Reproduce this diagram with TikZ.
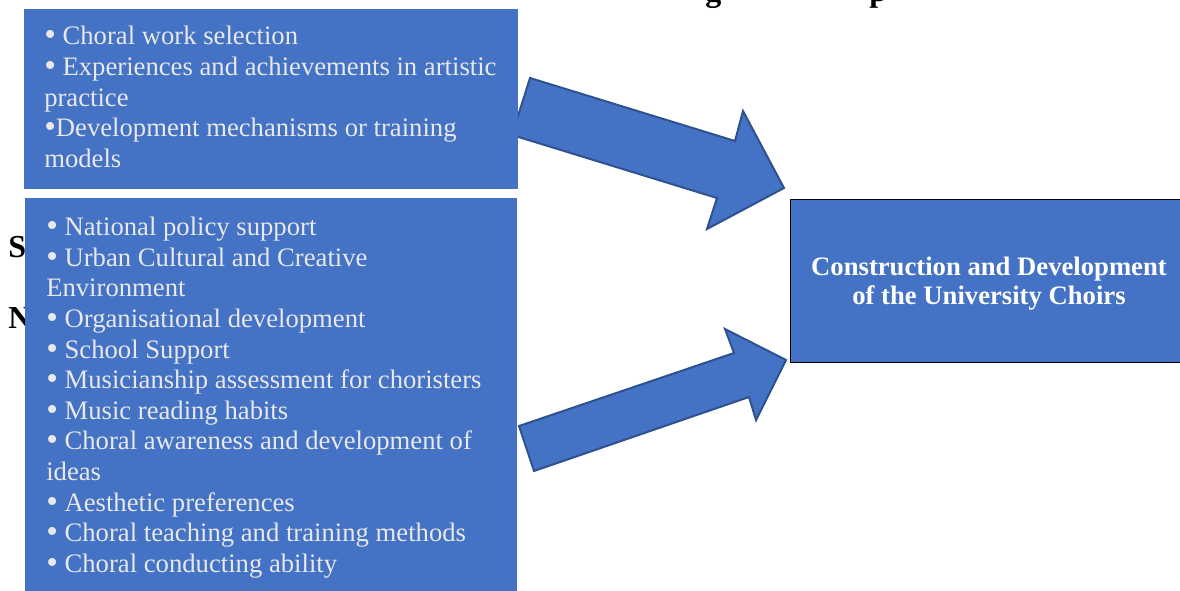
\documentclass[tikz,border=0pt]{standalone}
\usepackage{fontspec}
\setmainfont{Liberation Serif}
\definecolor{boxblue}{HTML}{4472C4}
\definecolor{edgeblue}{HTML}{2F528F}
\definecolor{lighttxt}{HTML}{E8E8E8}
\newcommand{\mybul}{\raisebox{-0.04em}{\scalebox{1.25}{•}}}
\begin{document}
\begin{tikzpicture}[x=0.75pt,y=-0.75pt,
  panel/.style={fill=boxblue, draw=none, inner sep=0pt, anchor=north west},
  item/.style={anchor=base west, inner sep=0pt, text=lighttxt, font=\fontsize{20}{23}\selectfont},
  goaltext/.style={text=white, align=center, inner sep=0pt, font=\fontsize{20}{21.75}\selectfont\bfseries},
  bigarrow/.style={fill=boxblue, draw=edgeblue, line width=1.5pt, line join=miter},
  ghost/.style={anchor=base west, inner sep=0pt, font=\fontsize{24}{28}\selectfont\bfseries}]
\useasboundingbox (0,0) rectangle (1180,590);

% partially hidden background letters
\node[ghost] (gS) at (8,257) {S};
\node[ghost] (gN) at (8,328) {N};
\node[ghost] (gg) at (705,1) {g};
\node[ghost] (gp) at (869,1) {p};

% block arrows
\coordinate (a1tail) at (512,135);
\filldraw[bigarrow] (a1tail) -- (530,78) -- (735,141) -- (743,111) -- (784,188) -- (707,229) -- (717,198) -- cycle;
\coordinate (a2tail) at (519,426);
\filldraw[bigarrow] (a2tail) -- (734,353) -- (725,329) -- (786,360) -- (756,420) -- (749,397) -- (534,471) -- cycle;

% boxes
\node[panel, minimum width=370.5pt, minimum height=135pt] (top) at (24,9) {};
\node[panel, minimum width=369pt, minimum height=297pt] (bottom) at (25,198) {};
\node[panel, draw=black, line width=0.9pt, minimum width=293.25pt, minimum height=122.25pt] (goal) at (790,199) {};

% texts of the upper box
\foreach \yy/\tt [count=\i] in {
  44/{\mybul{} Choral work selection},
  75/{\mybul{} Experiences and achievements in artistic},
  106/{practice},
  136/{\mybul{}Development mechanisms or training},
  167/{models}}
  \node[item] (t\i) at (44,\yy) {\tt};

% texts of the lower box
\foreach \yy/\tt [count=\i] in {
  235/{\mybul{} National policy support},
  266/{\mybul{} Urban Cultural and Creative},
  296/{Environment},
  327/{\mybul{} Organisational development},
  358/{\mybul{} School Support},
  388/{\mybul{} Musicianship assessment for choristers},
  419/{\mybul{} Music reading habits},
  449/{\mybul{} Choral awareness and development of},
  480/{ideas},
  511/{\mybul{} Aesthetic preferences},
  541/{\mybul{} Choral teaching and training methods},
  572/{\mybul{} Choral conducting ability}}
  \node[item] (b\i) at (46,\yy) {\tt};

\node[goaltext] (goaltxt) at (989,284) {Construction and Development\\of the University Choirs};
\end{tikzpicture}
\end{document}
